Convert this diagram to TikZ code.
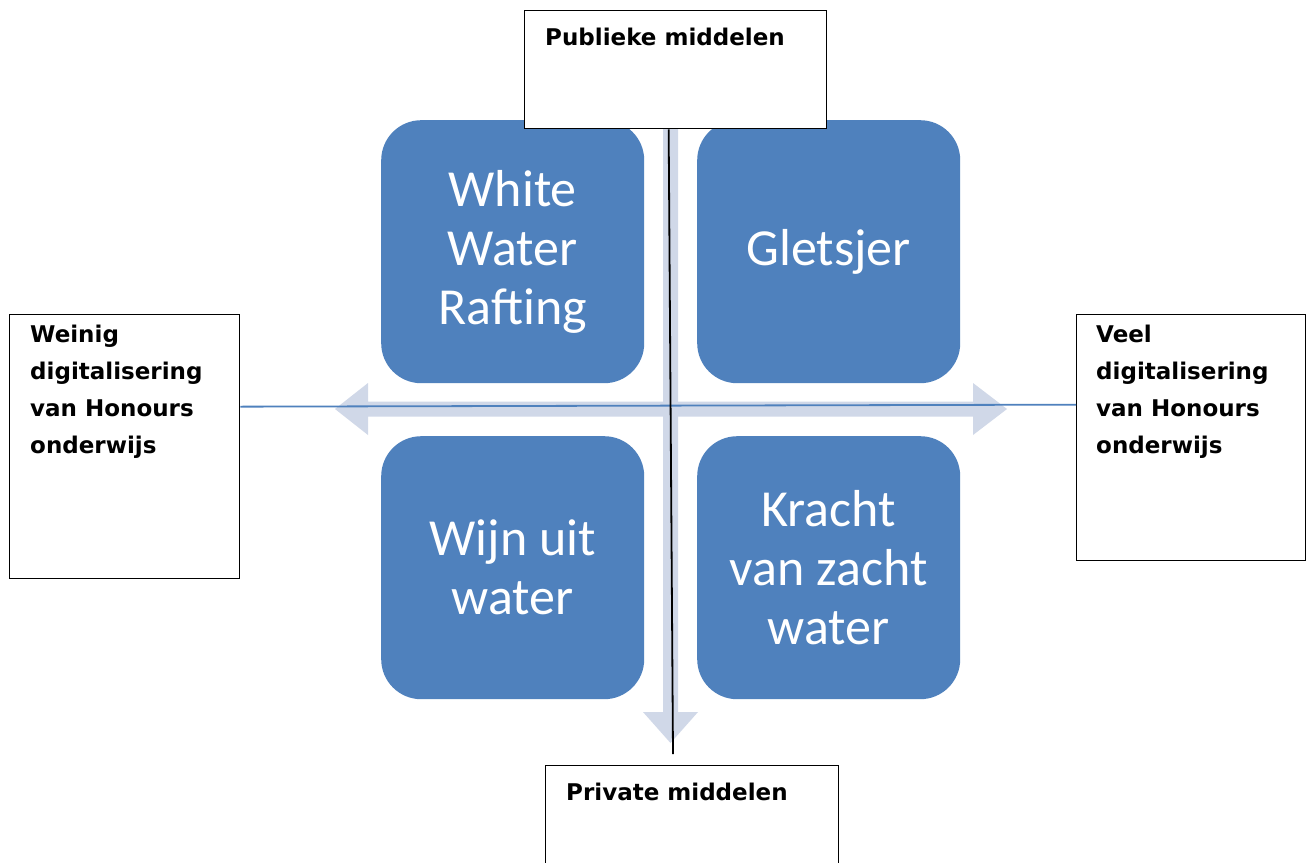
\documentclass[tikz,border=0pt]{standalone}
\usepackage{fontspec}
\newfontfamily\verd{DejaVu Sans}
\newfontfamily\calib{Carlito}
\definecolor{qblue}{HTML}{4F81BD}
\definecolor{qarrow}{HTML}{D0D8E8}
\begin{document}
\begin{tikzpicture}[x=1pt,y=-1pt,
 quad/.style={fill=qblue, rounded corners=40pt, minimum width=263pt, minimum height=263pt, inner sep=0pt, anchor=north west, text=white, font=\calib\fontsize{52}{59}\selectfont, align=center},
 lbox/.style={draw=black, line width=1.3pt, fill=white, anchor=north west, inner sep=0pt},
 ltext/.style={anchor=base west, inner sep=0pt, font=\verd\bfseries\fontsize{23}{37}\selectfont},
 crossarrow/.style={fill=qarrow, draw=none},
 axisline/.style={line width=1.8pt}
 ]
\clip (0,0) rectangle (1306,862);
\fill[white] (0,0) rectangle (1306,862);
% cross arrows
\fill[crossarrow] (335,409) -- (368,383) -- (368,401.5) -- (973,401.5) -- (973,383) -- (1007,409) -- (973,435) -- (973,416.5) -- (368,416.5) -- (368,435) -- cycle;
\fill[crossarrow] (663,100) -- (663,712) -- (643,712) -- (670.5,743) -- (698,712) -- (678,712) -- (678,100) -- cycle;
% quadrants
\node[quad] (tl) at (381,120) {White\\Water\\Rafting};
\node[quad] (tr) at (697,120) {Gletsjer};
\node[quad] (bl) at (381,436) {Wijn uit\\water};
\node[quad] (br) at (697,436) {Kracht\\van zacht\\water};
% label boxes
\node[lbox, minimum width=302pt, minimum height=118pt] (T) at (524,10) {};
\node[lbox, minimum width=293pt, minimum height=130pt] (B) at (545,765) {};
\node[lbox, minimum width=230pt, minimum height=264pt] (L) at (9,314) {};
\node[lbox, minimum width=229pt, minimum height=246pt] (R) at (1076,314) {};
\node[ltext] (Tt) at (545,45) {Publieke middelen};
\node[ltext] (Bt) at (566,800) {Private middelen};
\node[ltext] (Lt) at (30,342) {\parbox[t]{205pt}{\raggedright Weinig\\digitalisering\\van Honours\\onderwijs}};
\node[ltext] (Rt) at (1096,342) {\parbox[t]{205pt}{\raggedright Veel\\digitalisering\\van Honours\\onderwijs}};
% lines
\draw[axisline, qblue] ([yshift=40pt]L.east) -- ([yshift=33pt]R.west);
\coordinate (vend) at (673,754);
\draw[axisline, black] ([xshift=-7pt]T.south) -- (vend);
\end{tikzpicture}
\end{document}
